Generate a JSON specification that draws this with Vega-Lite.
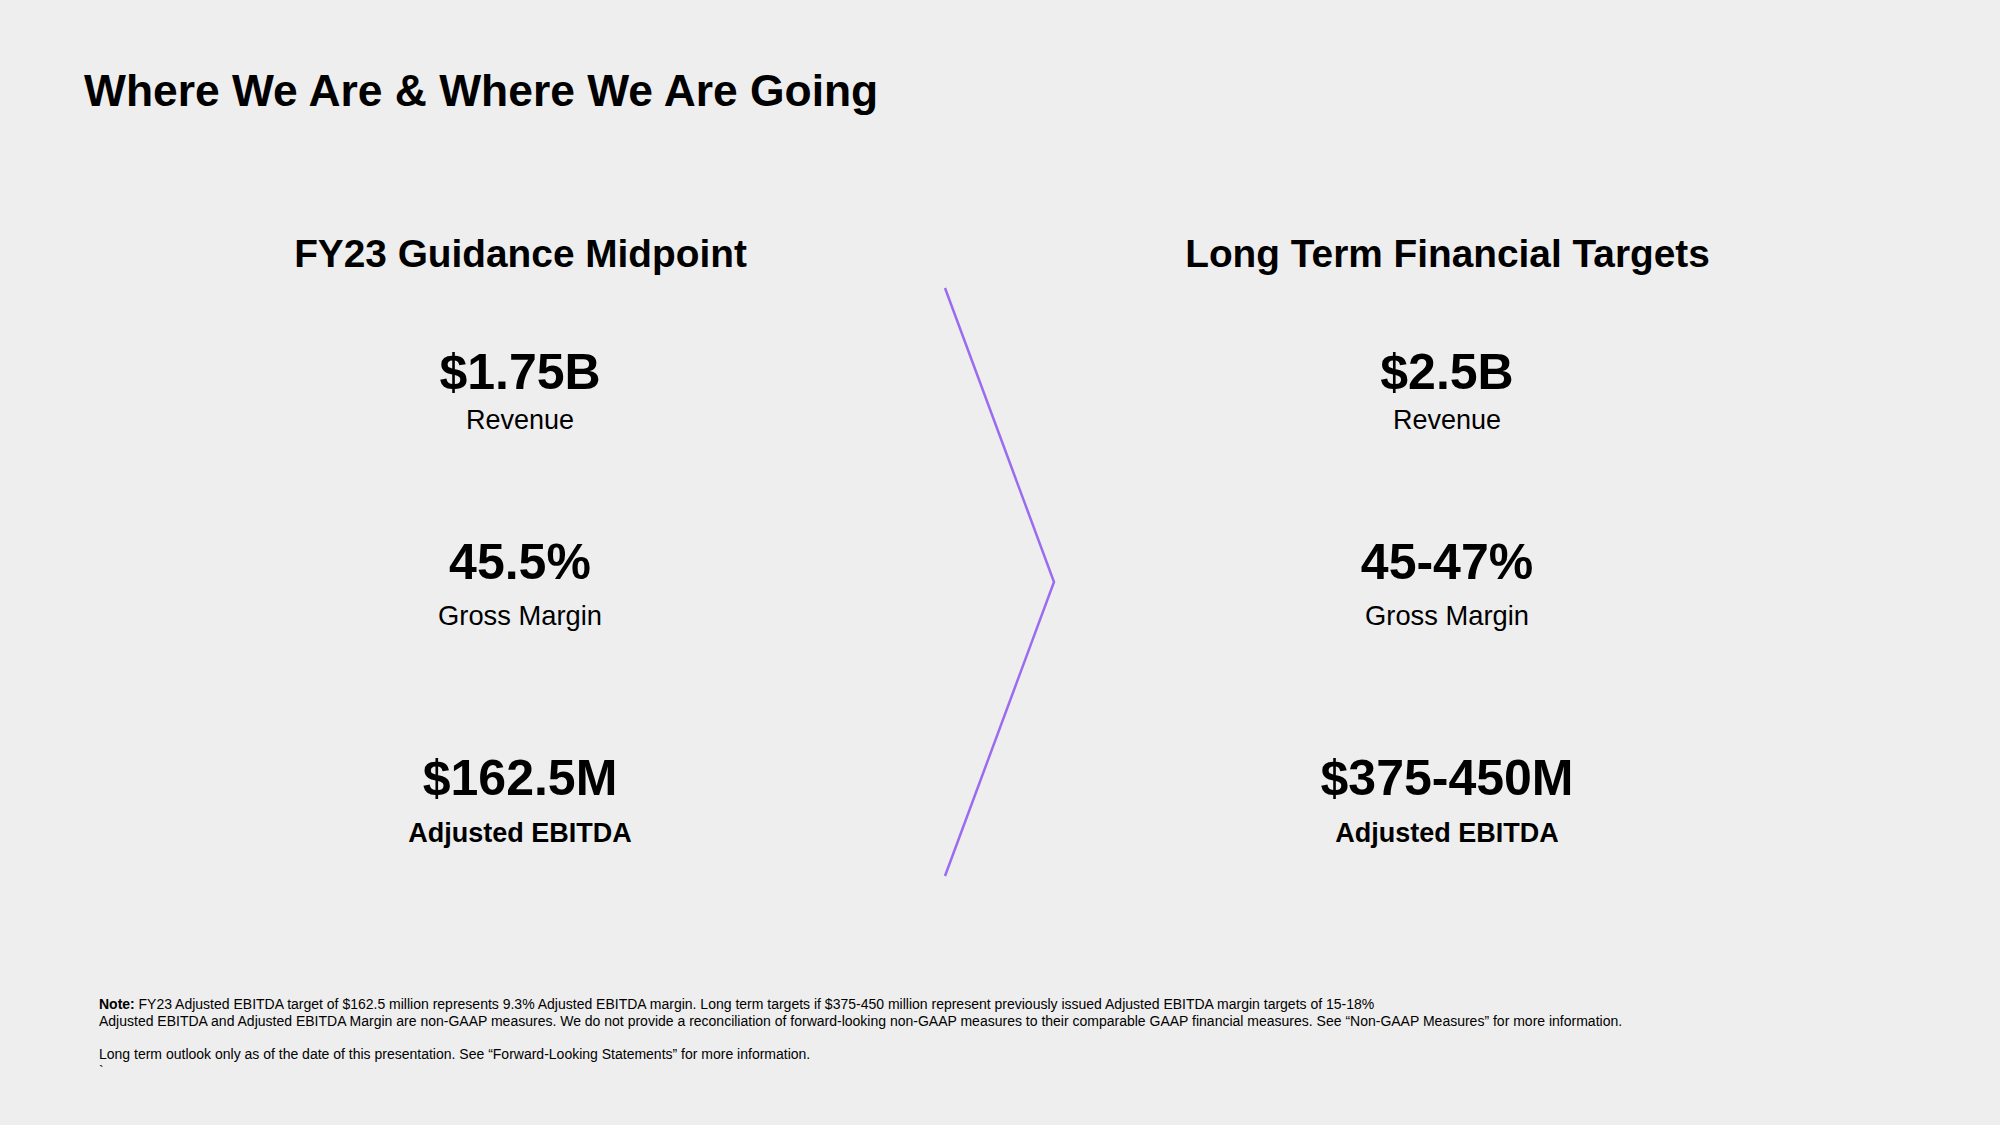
{
  "$schema": "https://vega.github.io/schema/vega-lite/v6.json",
  "width": 2000,
  "height": 1125,
  "autosize": "none",
  "padding": 0,
  "background": "#EEEEEE",
  "config": {
    "view": {"stroke": null},
    "font": "Liberation Sans",
    "text": {"font": "Liberation Sans", "color": "#000000"}
  },
  "title": {
    "text": "Where We Are & Where We Are Going",
    "anchor": "start",
    "frame": "group",
    "orient": "top",
    "offset": 0,
    "dx": 84,
    "dy": 150,
    "baseline": "alphabetic",
    "font": "Liberation Sans",
    "fontSize": 44.4,
    "fontWeight": "bold",
    "color": "#000000"
  },
  "datasets": {
    "metrics": [
      {"side": "FY23 Guidance Midpoint", "metric": "Revenue", "value": "$1.75B"},
      {"side": "FY23 Guidance Midpoint", "metric": "Gross Margin", "value": "45.5%"},
      {"side": "FY23 Guidance Midpoint", "metric": "Adjusted EBITDA", "value": "$162.5M"},
      {"side": "Long Term Financial Targets", "metric": "Revenue", "value": "$2.5B"},
      {"side": "Long Term Financial Targets", "metric": "Gross Margin", "value": "45-47%"},
      {"side": "Long Term Financial Targets", "metric": "Adjusted EBITDA", "value": "$375-450M"}
    ],
    "notes": [
      {"block": "Note", "line": 1, "lead": "Note:", "text": "FY23 Adjusted EBITDA target of $162.5 million represents 9.3% Adjusted EBITDA margin. Long term targets if $375-450 million represent previously issued Adjusted EBITDA margin targets of 15-18%"},
      {"block": "Note", "line": 2, "lead": "", "text": "Adjusted EBITDA and Adjusted EBITDA Margin are non-GAAP measures.  We do not provide a reconciliation of forward-looking non-GAAP measures to their comparable GAAP financial measures. See “Non-GAAP Measures” for more information."},
      {"block": "Note", "line": 4, "lead": "", "text": " Long term outlook only as of the date of this presentation. See “Forward-Looking Statements” for more information."},
      {"block": "Note", "line": 5, "lead": "", "text": "`"}
    ],
    "chevron": [
      {"pt": "top", "h": 0, "v": 0},
      {"pt": "apex", "h": 1, "v": 0.5},
      {"pt": "bottom", "h": 0, "v": 1}
    ]
  },
  "layer": [
    {
      "data": {"name": "metrics"},
      "encoding": {
        "x": {
          "field": "side",
          "type": "nominal",
          "scale": {"type": "point", "domain": ["FY23 Guidance Midpoint", "Long Term Financial Targets"], "range": [520, 1447], "padding": 0},
          "axis": {
            "orient": "top",
            "title": null,
            "domain": false,
            "ticks": false,
            "tickSize": 0,
            "grid": false,
            "labelPadding": 0,
            "offset": -266,
            "labelBaseline": "alphabetic",
            "labelFont": "Liberation Sans",
            "labelFontSize": 38.8,
            "labelFontWeight": "bold",
            "labelColor": "#000000",
            "labelLimit": 1000,
            "labelOverlap": false,
            "labelAngle": 0
          }
        },
        "y": {
          "field": "metric",
          "type": "nominal",
          "scale": {"type": "point", "domain": ["Revenue", "Gross Margin", "Adjusted EBITDA"], "range": [389, 795], "padding": 0},
          "axis": null
        }
      },
      "layer": [
        {
          "transform": [{"filter": "datum.metric !== 'Gross Margin'"}],
          "mark": {"type": "text", "align": "center", "baseline": "alphabetic", "fontSize": 50, "fontWeight": "bold"},
          "encoding": {"text": {"field": "value"}}
        },
        {
          "transform": [{"filter": "datum.metric === 'Gross Margin'"}],
          "mark": {"type": "text", "align": "center", "baseline": "alphabetic", "fontSize": 50, "fontWeight": "bold", "dy": -13},
          "encoding": {"text": {"field": "value"}}
        },
        {
          "transform": [{"filter": "datum.metric === 'Revenue'"}],
          "mark": {"type": "text", "align": "center", "baseline": "alphabetic", "fontSize": 27, "dy": 40},
          "encoding": {"text": {"field": "metric"}}
        },
        {
          "transform": [{"filter": "datum.metric === 'Gross Margin'"}],
          "mark": {"type": "text", "align": "center", "baseline": "alphabetic", "fontSize": 27.3, "dy": 33},
          "encoding": {"text": {"field": "metric"}}
        },
        {
          "transform": [{"filter": "datum.metric === 'Adjusted EBITDA'"}],
          "mark": {"type": "text", "align": "center", "baseline": "alphabetic", "fontSize": 27, "fontWeight": "bold", "dy": 47},
          "encoding": {"text": {"field": "metric"}}
        }
      ]
    },
    {
      "data": {"name": "notes"},
      "encoding": {
        "x": {"field": "block", "type": "nominal", "scale": {"type": "point", "domain": ["Note"], "range": [99, 99], "padding": 0}, "axis": null},
        "y": {"field": "line", "type": "ordinal", "scale": {"type": "point", "domain": [1, 2, 3, 4, 5], "range": [1009, 1075.7], "padding": 0}, "axis": null}
      },
      "layer": [
        {
          "transform": [{"filter": "datum.lead !== ''"}],
          "mark": {"type": "text", "align": "left", "baseline": "alphabetic", "fontSize": 14, "fontWeight": "bold"},
          "encoding": {"text": {"field": "lead"}}
        },
        {
          "transform": [{"filter": "datum.lead !== ''"}],
          "mark": {"type": "text", "align": "left", "baseline": "alphabetic", "fontSize": 14, "dx": 39.5},
          "encoding": {"text": {"field": "text"}}
        },
        {
          "transform": [{"filter": "datum.lead === ''"}],
          "mark": {"type": "text", "align": "left", "baseline": "alphabetic", "fontSize": 14},
          "encoding": {"text": {"field": "text"}}
        }
      ]
    },
    {
      "data": {"name": "chevron"},
      "mark": {"type": "line", "color": "#9B6BF0", "strokeWidth": 2.5, "strokeJoin": "miter"},
      "encoding": {
        "x": {"field": "h", "type": "quantitative", "scale": {"domain": [0, 1], "range": [945, 1054], "nice": false, "zero": false}, "axis": null},
        "y": {"field": "v", "type": "quantitative", "scale": {"domain": [0, 1], "range": [288, 876], "nice": false, "zero": false}, "axis": null},
        "order": {"field": "v", "type": "quantitative"}
      }
    }
  ],
  "resolve": {"scale": {"x": "independent", "y": "independent"}}
}
